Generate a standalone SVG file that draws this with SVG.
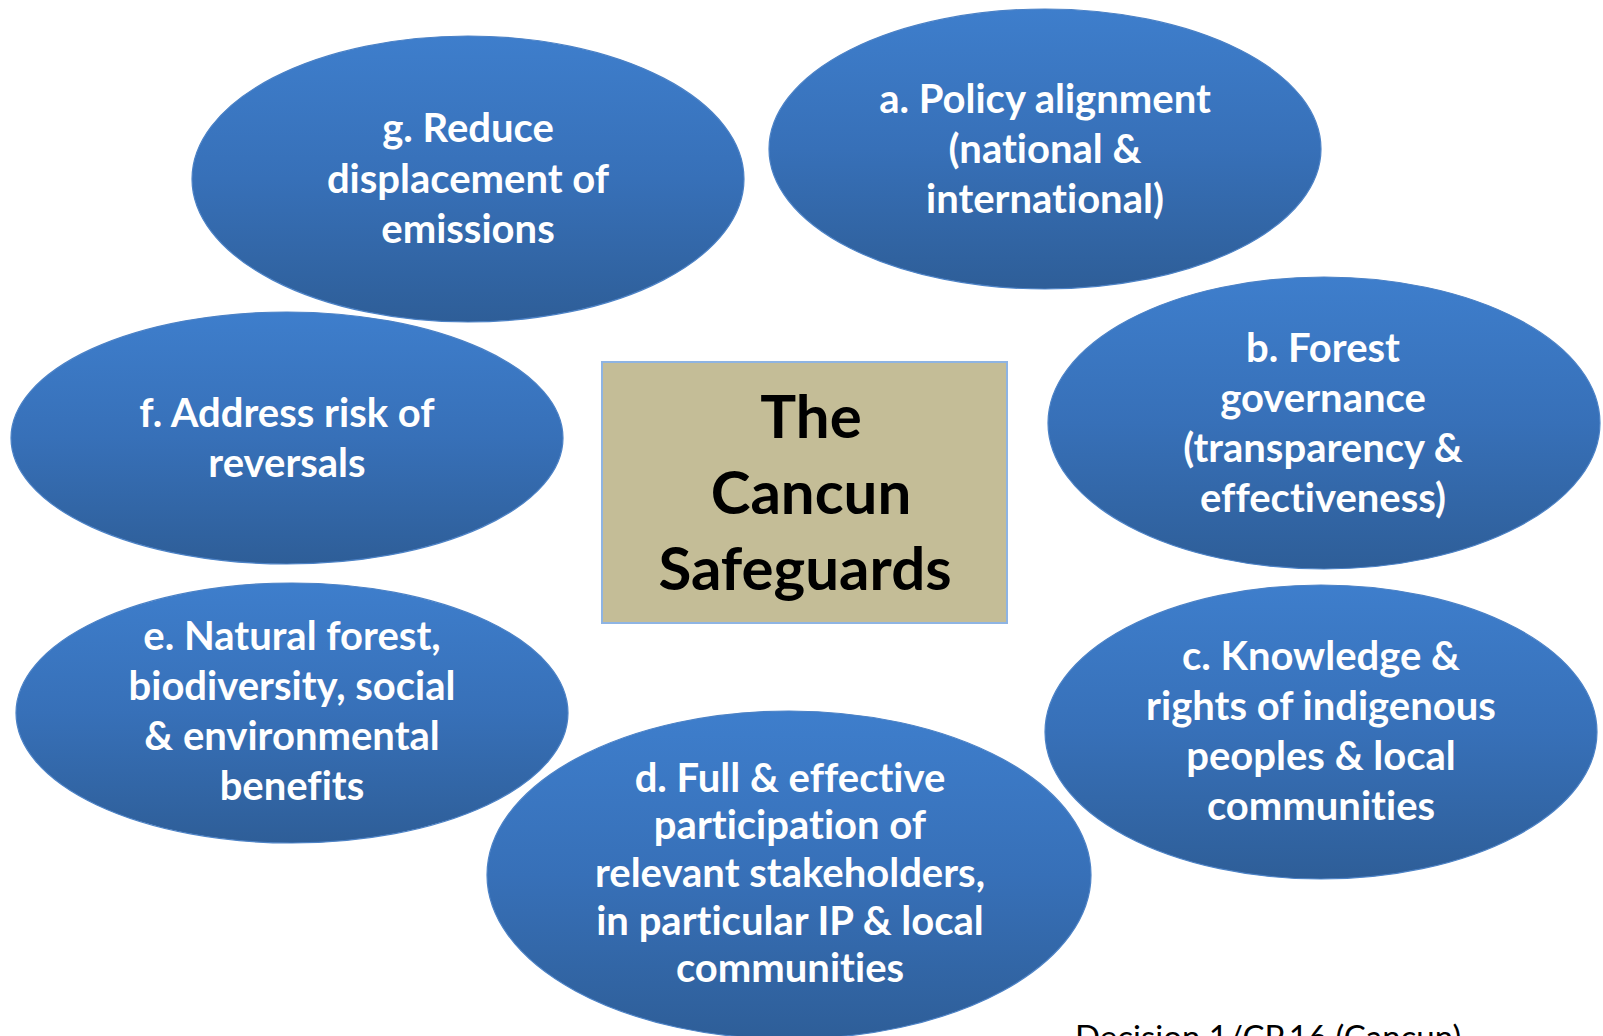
<svg xmlns="http://www.w3.org/2000/svg" width="1603" height="1036" viewBox="0 0 1603 1036">
<defs>
<linearGradient id="blue" x1="0" y1="0" x2="0" y2="1">
<stop offset="0" stop-color="#3E7ECC"/>
<stop offset="0.5" stop-color="#3770B8"/>
<stop offset="1" stop-color="#2E5E98"/>
</linearGradient>
<style>
.ell{fill:url(#blue);stroke:#4C82C6;stroke-width:1.2}
.lbl{font-family:Lato,"Liberation Sans",sans-serif;font-weight:bold;font-size:40px;fill:#FFFFFF;text-anchor:middle;font-variant-ligatures:none}
.ctr{font-family:Lato,"Liberation Sans",sans-serif;font-weight:bold;font-size:60px;fill:#000000;text-anchor:middle}
.note{font-family:Lato,"Liberation Sans",sans-serif;font-size:33px;fill:#000000}
</style>
</defs>
<rect width="1603" height="1036" fill="#FFFFFF"/>
<g id="connectors"/>
<g id="node-f">
<ellipse class="ell" cx="287" cy="438" rx="276" ry="126"/>
<text class="lbl" x="287" y="427">f. Address risk of</text>
<text class="lbl" x="287" y="477">reversals</text>
</g>
<g id="node-g">
<ellipse class="ell" cx="468" cy="179" rx="276" ry="143"/>
<text class="lbl" x="468" y="142">g. Reduce</text>
<text class="lbl" x="468" y="193">displacement of</text>
<text class="lbl" x="468" y="243">emissions</text>
</g>
<g id="node-a">
<ellipse class="ell" cx="1045" cy="149" rx="276" ry="140"/>
<text class="lbl" x="1045" y="113">a. Policy alignment</text>
<text class="lbl" x="1045" y="163">(national &amp;</text>
<text class="lbl" x="1045" y="213">international)</text>
</g>
<g id="node-b">
<ellipse class="ell" cx="1324" cy="423" rx="276" ry="146"/>
<text class="lbl" x="1323" y="362">b. Forest</text>
<text class="lbl" x="1323" y="412">governance</text>
<text class="lbl" x="1323" y="462">(transparency &amp;</text>
<text class="lbl" x="1323" y="512">effectiveness)</text>
</g>
<g id="node-c">
<ellipse class="ell" cx="1321" cy="732" rx="276" ry="147"/>
<text class="lbl" x="1321" y="670">c. Knowledge &amp;</text>
<text class="lbl" x="1321" y="720">rights of indigenous</text>
<text class="lbl" x="1321" y="770">peoples &amp; local</text>
<text class="lbl" x="1321" y="820">communities</text>
</g>
<g id="node-e">
<ellipse class="ell" cx="292" cy="713" rx="276" ry="130"/>
<text class="lbl" x="292" y="650">e. Natural forest,</text>
<text class="lbl" x="292" y="700">biodiversity, social</text>
<text class="lbl" x="292" y="750">&amp; environmental</text>
<text class="lbl" x="292" y="800">benefits</text>
</g>
<g id="node-d">
<ellipse class="ell" cx="789" cy="875" rx="302" ry="164"/>
<text class="lbl" x="790" y="792">d. Full &amp; effective</text>
<text class="lbl" x="790" y="839">participation of</text>
<text class="lbl" x="790" y="887">relevant stakeholders,</text>
<text class="lbl" x="790" y="935">in particular IP &amp; local</text>
<text class="lbl" x="790" y="982">communities</text>
</g>
<g id="node-center">
<rect x="602" y="362" width="405" height="261" fill="#C4BD97" stroke="#8EB4E3" stroke-width="2"/>
<text class="ctr" x="811" y="438">The</text>
<text class="ctr" x="811" y="514">Cancun</text>
<text class="ctr" x="805" y="590">Safeguards</text>
</g>
<g id="note">
<text class="note" x="1075" y="1049">Decision 1/CP.16 (Cancun)</text>
</g>
</svg>
